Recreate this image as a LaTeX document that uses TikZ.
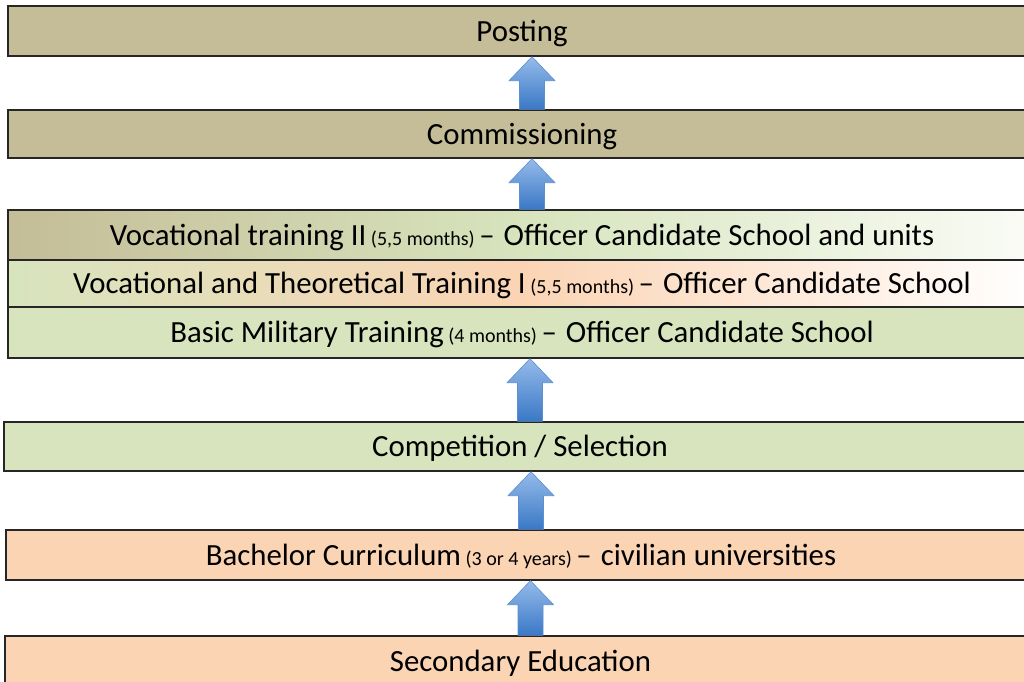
\documentclass[tikz,border=0pt]{standalone}
\usepackage{fontspec}
\setmainfont{Carlito}
\usetikzlibrary{calc}
\definecolor{tanc}{HTML}{C4BD97}
\definecolor{greenc}{HTML}{D7E4BD}
\definecolor{peachc}{HTML}{FBD4B4}
\definecolor{whitish}{HTML}{FAFCF6}
\definecolor{edgec}{HTML}{262626}
\definecolor{arrtop}{HTML}{95BBEA}
\definecolor{arrbot}{HTML}{3A78C6}
\definecolor{arredge}{HTML}{5B8FD0}
\newcommand\sm[1]{{\fontsize{10pt}{12pt}\selectfont\ #1\ }}
\newcommand\bluearrow[2]{%
  \shade[top color=arrtop, bottom color=arrbot, draw=arredge, line width=0.3pt]
    let \p1=(#1.north), \p2=(#2.south) in
    (\x1+5pt-6.25pt,\y1) -- (\x1+5pt-6.25pt,\y2-12pt) -- (\x1+5pt-11.5pt,\y2-12pt)
    -- (\x1+5pt,\y2) -- (\x1+5pt+11.5pt,\y2-12pt) -- (\x1+5pt+6.25pt,\y2-12pt)
    -- (\x1+5pt+6.25pt,\y1) -- cycle;}
\begin{document}
\begin{tikzpicture}[x=0.5pt,y=-0.5pt,
  box/.style={draw=edgec, line width=0.7pt, rectangle, minimum width=514pt, inner sep=0pt,
    font=\fontsize{15.4pt}{18pt}\selectfont, text=black, text height=10pt, text depth=0pt}]
\useasboundingbox (0,0) rectangle (1024,681);
\clip (0,0) rectangle (1024,681);
\fill[white] (0,0) rectangle (1024,681);
\node[box, fill=tanc, minimum height=25pt] (post) at (522,31) {Posting};
\node[box, fill=tanc, minimum height=24pt] (comm) at (522,134) {Commissioning};
\node[box, left color=tanc, right color=whitish, middle color=greenc, minimum height=25pt] (voc2) at (522,235)
  {Vocational training II\sm{(5,5 months)}–\sm{}Officer Candidate School and units};
\node[box, left color=greenc, right color=white, middle color=peachc, minimum height=23.5pt] (voc1) at (522,283.5)
  {Vocational and Theoretical Training I\sm{(5,5 months)}–\sm{}Officer Candidate School};
\node[box, fill=greenc, minimum height=25.5pt] (basic) at (522,332.5)
  {Basic Military Training\sm{(4 months)}–\sm{}Officer Candidate School};
\node[box, fill=greenc, minimum height=24.5pt, minimum width=516pt] (comp) at (520,446.5)
  {Competition / Selection};
\node[box, fill=peachc, minimum height=25pt, minimum width=515pt] (bach) at (521,555)
  {Bachelor Curriculum\sm{(3 or 4 years)}–\sm{}civilian universities};
\node[box, fill=peachc, minimum height=25pt, minimum width=515.5pt] (sec) at (520.5,661)
  {Secondary Education};
\bluearrow{comm}{post}
\bluearrow{voc2}{comm}
\bluearrow{comp}{basic}
\bluearrow{bach}{comp}
\bluearrow{sec}{bach}
\end{tikzpicture}
\end{document}
